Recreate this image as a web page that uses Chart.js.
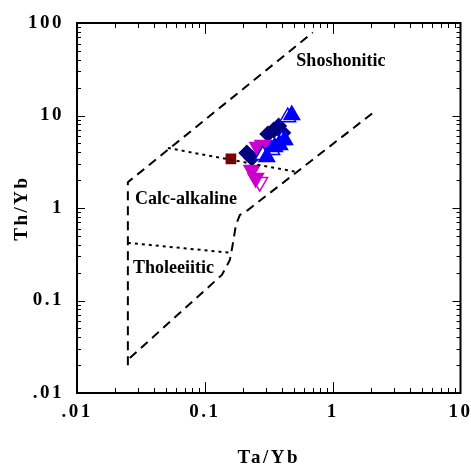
<!DOCTYPE html>
<html>
<head>
<meta charset="utf-8">
<script src="https://cdn.jsdelivr.net/npm/chart.js@4.4.0/dist/chart.umd.min.js"></script>
<style>
html, body { margin: 0; padding: 0; background: #fff; }
#wrap { width: 471px; height: 469px; }
</style>
</head>
<body>
<div id="wrap"><canvas id="taybChart"></canvas></div>
<script>
// axis ticks
var xTickValues = [0.01, 0.1, 1, 10];
var xTickLabels = ['.01', '0.1', '1', '10'];
var yTickValues = [0.01, 0.1, 1, 10, 100];
var yTickLabels = ['.01', '0.1', '1', '10', '100'];

// field boundaries (Ta/Yb, Th/Yb)
var outerLeftX = [0.025, 0.025, 0.70];
var outerLeftY = [0.02, 1.9, 79];
var outerRightX = [0.0259, 0.136, 0.157, 0.165, 0.175, 0.188, 0.217, 2.05];
var outerRightY = [0.0239, 0.189, 0.274, 0.398, 0.655, 0.84, 0.95, 10.6];
var calcTholX = [0.025, 0.163];
var calcTholY = [0.42, 0.327];
var shoCalcX = [0.0514, 0.524];
var shoCalcY = [4.45, 2.45];

// field names
var fieldLabels = ['Shoshonitic', 'Calc-alkaline', 'Tholeeiitic'];
var fieldLabelX = [0.52, 0.0284, 0.0274];
var fieldLabelY = [38.8, 1.25, 0.224];

// samples
var squareX = [0.16];
var squareY = [3.4];
var triUpX = [0.479, 0.385, 0.352, 0.305, 0.422];
var triUpY = [10.1, 4.8, 4.56, 3.56, 5.43];
var triUpOpenX = [0.445, 0.40, 0.334, 0.284];
var triUpOpenY = [9.6, 5.43, 4.24, 3.74];
var triDownX = [0.284, 0.259, 0.311, 0.233, 0.25];
var triDownY = [4.8, 4.56, 4.24, 2.58, 2.11];
var triDownOpenX = [0.269, 0.322, 0.297];
var triDownOpenY = [1.91, 4.68, 4.24];
var diamondX = [0.213, 0.233, 0.311, 0.346, 0.378, 0.407];
var diamondY = [3.93, 3.47, 6.3, 6.97, 7.7, 6.5];

function pts(xs, ys) {
    return xs.map(function (x, i) { return { x: x, y: ys[i] }; });
}

function boundary(xs, ys, dash) {
    return {
        data: pts(xs, ys), showLine: true, pointRadius: 0,
        borderColor: '#000', borderWidth: 2, borderDash: dash, fill: false
    };
}

function marker(xs, ys, style, color, fillColor, radius, rotation) {
    return {
        data: pts(xs, ys), showLine: false, pointStyle: style,
        pointRadius: radius, pointRotation: rotation || 0,
        borderColor: color, backgroundColor: fillColor, borderWidth: 1.5
    };
}

var serif = '"Liberation Serif", "Times New Roman", serif';

var frameTicks = {
    id: 'frameTicks',
    beforeDraw: function (chart) {
        // spaced-out digits on the axes, like the original plot
        chart.ctx.letterSpacing = '2.5px';
    },
    beforeDatasetsDraw: function (chart) {
        chart.ctx.letterSpacing = '0px';
    },
    afterDraw: function (chart) {
        var ctx = chart.ctx, a = chart.chartArea;
        var xs = chart.scales.x, ys = chart.scales.y;
        ctx.save();
        ctx.letterSpacing = '0px';
        ctx.strokeStyle = '#000';
        ctx.lineWidth = 1;
        ctx.beginPath();
        for (var d = 0.01; d < 10; d *= 10) {
            for (var k = 1; k < 10; k++) {
                var px = Math.round(xs.getPixelForValue(k * d)) + 0.5;
                var len = k === 1 ? 11 : 5;
                ctx.moveTo(px, a.bottom); ctx.lineTo(px, a.bottom - len);
                ctx.moveTo(px, a.top); ctx.lineTo(px, a.top + len);
            }
        }
        for (var e = 0.01; e < 100; e *= 10) {
            for (var j = 1; j < 10; j++) {
                var py = Math.round(ys.getPixelForValue(j * e)) + 0.5;
                var ylen = j === 1 ? 8 : 4;
                ctx.moveTo(a.left, py); ctx.lineTo(a.left + ylen, py);
                ctx.moveTo(a.right, py); ctx.lineTo(a.right - ylen, py);
            }
        }
        ctx.stroke();
        ctx.lineWidth = 2;
        ctx.strokeRect(a.left, a.top, a.right - a.left, a.bottom - a.top);

        ctx.fillStyle = '#000';
        ctx.font = 'bold 18px ' + serif;
        ctx.textAlign = 'left';
        ctx.textBaseline = 'middle';
        fieldLabels.forEach(function (t, i) {
            ctx.fillText(t, xs.getPixelForValue(fieldLabelX[i]), ys.getPixelForValue(fieldLabelY[i]));
        });
        ctx.restore();
    }
};

var ctx = document.getElementById('taybChart').getContext('2d');
new Chart(ctx, {
    type: 'scatter',
    data: {
        datasets: [
            boundary(outerLeftX, outerLeftY, [9, 6]),
            boundary(outerRightX, outerRightY, [9, 6]),
            boundary(calcTholX, calcTholY, [3, 4]),
            boundary(shoCalcX, shoCalcY, [3, 4]),
            marker(squareX, squareY, 'rect', '#800000', '#800000', 6.5),
            marker(triUpX, triUpY, 'triangle', '#0000ff', '#0000ff', 9),
            marker(triUpOpenX, triUpOpenY, 'triangle', '#0000ff', '#ffffff', 9),
            marker(triDownX, triDownY, 'triangle', '#cc00cc', '#cc00cc', 9, 180),
            marker(triDownOpenX, triDownOpenY, 'triangle', '#cc00cc', '#ffffff', 9, 180),
            marker(diamondX, diamondY, 'rectRot', '#000080', '#000080', 7.5)
        ]
    },
    options: {
        responsive: true,
        maintainAspectRatio: false,
        animation: false,
        layout: { padding: { left: 0, top: 23, right: 10, bottom: 0 } },
        plugins: { legend: { display: false }, tooltip: { enabled: false } },
        scales: {
            x: {
                type: 'logarithmic', min: 0.01, max: 10,
                grid: { display: false, drawTicks: false },
                border: { display: false },
                afterBuildTicks: function (axis) {
                    axis.ticks = xTickValues.map(function (v) { return { value: v }; });
                },
                afterFit: function (axis) {
                    axis.height = 76;
                    axis.paddingLeft = 0;
                    axis.paddingRight = 0;
                },
                ticks: {
                    autoSkip: false, maxRotation: 0, padding: 8, color: '#000',
                    font: { family: serif, size: 19, weight: 'bold' },
                    callback: function (v) {
                        var i = xTickValues.indexOf(v);
                        return i < 0 ? '' : xTickLabels[i];
                    }
                },
                title: {
                    display: true, text: 'Ta/Yb', color: '#000',
                    font: { family: serif, size: 19, weight: 'bold' },
                    padding: { top: 0, bottom: 0 }
                }
            },
            y: {
                type: 'logarithmic', min: 0.01, max: 100,
                grid: { display: false, drawTicks: false },
                border: { display: false },
                afterBuildTicks: function (axis) {
                    axis.ticks = yTickValues.map(function (v) { return { value: v }; });
                },
                afterFit: function (axis) {
                    axis.width = 77;
                    axis.paddingTop = 0;
                    axis.paddingBottom = 0;
                },
                ticks: {
                    autoSkip: false, padding: 13, color: '#000',
                    font: { family: serif, size: 19, weight: 'bold' },
                    callback: function (v) {
                        var i = yTickValues.indexOf(v);
                        return i < 0 ? '' : yTickLabels[i];
                    }
                },
                title: {
                    display: true, text: 'Th/Yb', color: '#000',
                    font: { family: serif, size: 19, weight: 'bold' },
                    padding: { top: 11, bottom: 0 }
                }
            }
        }
    },
    plugins: [frameTicks]
});
</script>
</body>
</html>
